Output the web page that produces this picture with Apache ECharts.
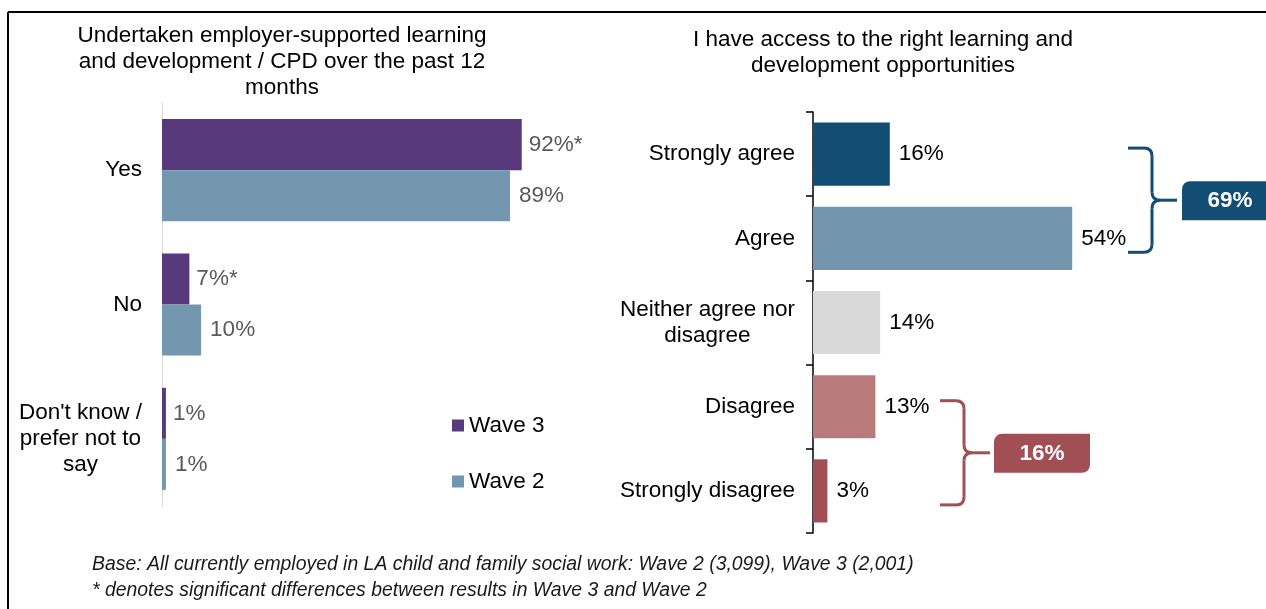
<!DOCTYPE html>
<html>
<head>
<meta charset="utf-8">
<title>Learning and development</title>
<script src="https://cdn.jsdelivr.net/npm/echarts@6/dist/echarts.min.js"></script>
<style>
  html, body { margin: 0; padding: 0; background: #fff; }
  #main { width: 1266px; height: 609px; }
</style>
</head>
<body>
<div id="main"></div>
<script>
// 左边：CPD
const cpdCategories = ['Yes', 'No', "Don't know /\nprefer not to\nsay"]
const wave3Values = [92, 7, 1]
const wave2Values = [89, 10, 1]
const wave3Marks = ['*', '*', '']
const wave2Marks = ['', '', '']
const waveNames = ['Wave 3', 'Wave 2']

// 右边：access
const accessCategories = ['Strongly agree', 'Agree', 'Neither agree nor\ndisagree', 'Disagree', 'Strongly disagree']
const accessValues = [16, 54, 14, 13, 3]
const agreeGroup = [0, 1]
const disagreeGroup = [3, 4]
const netLabels = ['69%', '16%']

const FONT = '"Liberation Sans", Arial, sans-serif'
const FS = 22.5
const waveColors = ['#58397b', '#7397af']
const accessColors = ['#124e73', '#7396ae', '#d9d9d9', '#b97a7c', '#a14f55']
const netColors = ['#124e73', '#a14f55']

const chart = echarts.init(document.getElementById('main'))

const centredLabel = v => v.split('\n').map(s => '{c|' + s + '}').join('\n')
const labelRich = { c: { align: 'center', fontSize: FS, lineHeight: 26, color: '#000', fontFamily: FONT } }

chart.setOption({
  animation: false,
  textStyle: { fontFamily: FONT },
  legend: {
    data: waveNames,
    orient: 'vertical',
    left: 447,
    top: 409,
    itemGap: 33,
    itemWidth: 12,
    itemHeight: 12,
    icon: 'rect',
    textStyle: { fontSize: FS, color: '#000', fontFamily: FONT }
  },
  grid: [
    { left: 162, top: 103, width: 391, height: 403 },
    { left: 813, top: 112, width: 288, height: 421 }
  ],
  xAxis: [
    { gridIndex: 0, type: 'value', min: 0, max: 100, show: false },
    { gridIndex: 1, type: 'value', min: 0, max: 60, show: false }
  ],
  yAxis: [
    {
      gridIndex: 0,
      type: 'category',
      inverse: true,
      data: cpdCategories,
      axisLine: { lineStyle: { color: '#d9d9d9', width: 1 } },
      axisTick: { show: false },
      axisLabel: { margin: 20, formatter: centredLabel, rich: labelRich }
    },
    {
      gridIndex: 1,
      type: 'category',
      inverse: true,
      data: accessCategories,
      axisLine: { lineStyle: { color: '#000', width: 1.5 } },
      axisTick: { show: true, length: 7, lineStyle: { color: '#000', width: 1.5 } },
      axisLabel: { margin: 18, formatter: centredLabel, rich: labelRich }
    }
  ],
  series: [
    {
      name: waveNames[0],
      type: 'bar',
      xAxisIndex: 0,
      yAxisIndex: 0,
      data: wave3Values,
      itemStyle: { color: waveColors[0] },
      barCategoryGap: '24%',
      barGap: '0%',
      label: {
        show: true,
        position: 'right',
        distance: 7,
        fontSize: FS,
        color: '#595959',
        formatter: p => p.value + '%' + wave3Marks[p.dataIndex]
      }
    },
    {
      name: waveNames[1],
      type: 'bar',
      xAxisIndex: 0,
      yAxisIndex: 0,
      data: wave2Values,
      itemStyle: { color: waveColors[1] },
      barCategoryGap: '24%',
      barGap: '0%',
      label: {
        show: true,
        position: 'right',
        distance: 9,
        fontSize: FS,
        color: '#595959',
        formatter: p => p.value + '%' + wave2Marks[p.dataIndex]
      }
    },
    {
      name: 'access',
      type: 'bar',
      xAxisIndex: 1,
      yAxisIndex: 1,
      data: accessValues,
      barCategoryGap: '25%',
      itemStyle: { color: p => accessColors[p.dataIndex] },
      label: {
        show: true,
        position: 'right',
        distance: 9,
        fontSize: FS,
        color: '#000',
        formatter: '{c}%'
      }
    }
  ]
})

// 括号：用直线 + 二次曲线拼
const bracket = (x0, x1, xt, top, bottom, color) => {
  const r = 8
  const mid = (top + bottom) / 2
  const st = { stroke: color, lineWidth: 3, fill: null }
  const ln = (a, b, c, d) => ({ type: 'line', shape: { x1: a, y1: b, x2: c, y2: d }, style: st })
  const qc = (a, b, c, d, cx, cy) => ({ type: 'bezierCurve', shape: { x1: a, y1: b, x2: c, y2: d, cpx1: cx, cpy1: cy }, style: st })
  return [
    ln(x0, top, x1 - r, top),
    qc(x1 - r, top, x1, top + r, x1, top),
    ln(x1, top + r, x1, mid - r),
    qc(x1, mid - r, x1 + r, mid, x1, mid),
    ln(x1 + r, mid, xt, mid),
    qc(x1 + r, mid, x1, mid + r, x1, mid),
    ln(x1, mid + r, x1, bottom - r),
    qc(x1, bottom - r, x1 - r, bottom, x1, bottom),
    ln(x1 - r, bottom, x0, bottom)
  ]
}

const netBox = (x, mid, text, color) => [
  { type: 'rect', shape: { x: x, y: mid - 19, width: 96, height: 39, r: [8, 0, 8, 0] }, style: { fill: color } },
  { type: 'text', style: { text: text, x: x + 48, y: mid + 1, align: 'center', verticalAlign: 'middle', fontSize: FS, fontWeight: 'bold', fill: '#fff', fontFamily: FONT } }
]

const yPix = i => chart.convertToPixel({ yAxisIndex: 1 }, i)
const groups = [agreeGroup, disagreeGroup]
const bracketX = [[1128, 1152, 1177, 1182], [940, 964, 990, 994]]

const graphics = [
  { type: 'line', shape: { x1: 8, y1: 12, x2: 1266, y2: 12 }, style: { stroke: '#000', lineWidth: 2 } },
  { type: 'line', shape: { x1: 8, y1: 12, x2: 8, y2: 609 }, style: { stroke: '#000', lineWidth: 2 } },
  {
    type: 'text',
    style: {
      text: 'Undertaken employer-supported learning\nand development / CPD over the past 12\nmonths',
      x: 282, y: 23, align: 'center', verticalAlign: 'top', fontSize: FS, lineHeight: 26, fill: '#000', fontFamily: FONT
    }
  },
  {
    type: 'text',
    style: {
      text: 'I have access to the right learning and\ndevelopment opportunities',
      x: 883, y: 27, align: 'center', verticalAlign: 'top', fontSize: FS, lineHeight: 26, fill: '#000', fontFamily: FONT
    }
  },
  {
    type: 'text',
    style: {
      text: 'Base: All currently employed in LA child and family social work: Wave 2 (3,099), Wave 3 (2,001)\n* denotes significant differences between results in Wave 3 and Wave 2',
      x: 92, y: 552, align: 'left', verticalAlign: 'top', fontSize: 19.4, lineHeight: 26, fontStyle: 'italic', fill: '#1a1a1a', fontFamily: FONT
    }
  }
]

groups.forEach((g, k) => {
  const top = yPix(g[0]) - 6
  const bottom = yPix(g[g.length - 1]) + 14
  const [x0, x1, xt, bx] = bracketX[k]
  graphics.push(...bracket(x0, x1, xt, top, bottom, netColors[k]))
  graphics.push(...netBox(bx, (top + bottom) / 2, netLabels[k], netColors[k]))
})

chart.setOption({ graphic: graphics })
</script>
</body>
</html>
